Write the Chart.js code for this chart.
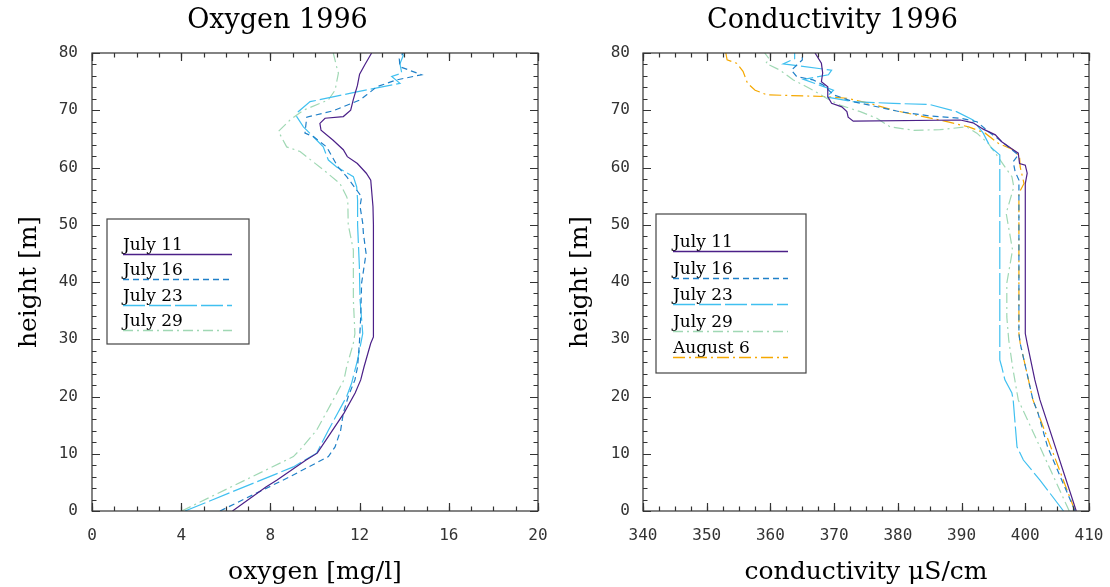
<!DOCTYPE html>
<html>
<head>
<meta charset="utf-8">
<script src="https://cdn.jsdelivr.net/npm/chart.js@4/dist/chart.umd.min.js"></script>
<style>
  body { margin: 0; background: #fff; }
  #wrap { position: relative; width: 1110px; height: 587px; }
  .panel { position: absolute; top: 0; width: 555px; height: 587px; }
</style>
</head>
<body>
<div id="wrap">
  <div class="panel" style="left:0"><canvas id="oxygen" width="555" height="587"></canvas></div>
  <div class="panel" style="left:555px"><canvas id="conductivity" width="555" height="587"></canvas></div>
</div>
<script>
// profile dates
let dateLabels = ["July 11", "July 16", "July 23", "July 29", "August 6"];

// oxygen [mg/l] vs height [m], pairs of [value, height]
let oxyJuly11 = [[6.3,0],[7.8,4.2],[8.3,5.4],[9.6,8.9],[10.1,10.1],[10.7,13.6],[11.3,17.1],[11.8,20.6],[12.05,22.9],[12.2,25.2],[12.5,29.3],[12.62,30.4],[12.62,40],[12.62,50],[12.6,53.2],[12.5,57.8],[12.3,59],[11.9,60.7],[11.45,61.9],[11.27,63.1],[10.8,64.8],[10.27,66.5],[10.22,67.7],[10.45,68.6],[11.27,68.9],[11.6,70],[11.72,71.9],[11.9,74.3],[12.0,76.3],[12.24,78],[12.54,80]];
let oxyJuly16 = [[5.74,0],[8.88,6.0],[10.6,9.5],[10.9,11.2],[11.15,14.1],[11.27,17.1],[11.49,20],[11.79,22.9],[11.91,25.2],[11.99,29.3],[12.05,33.9],[12.09,39.8],[12.29,45],[12.17,48.5],[12.14,50.3],[12.02,53.2],[12.09,54.9],[11.42,58.4],[11.03,60.1],[10.52,63.6],[9.93,65.4],[9.55,66],[9.63,68.8],[10.82,69.9],[12.02,71.8],[12.32,72.7],[12.77,74.1],[13.66,75.3],[14.78,76.2],[13.81,77.6],[13.78,79],[13.96,80]];
let oxyJuly23 = [[4.17,0],[9.03,7.7],[10.07,10.1],[10.6,14.1],[11.42,20],[11.64,22.3],[11.91,26.4],[12.14,31],[12.02,36.9],[11.99,42.7],[11.91,50],[11.91,54.3],[11.87,56.6],[11.72,58.4],[10.97,60.1],[10.6,61.3],[10.37,63.6],[10.07,64.8],[9.48,67.1],[9.18,68.9],[9.25,69.75],[9.78,71.5],[11.87,73.2],[13.81,74.7],[13.44,75.9],[13.89,76.5],[13.81,78.1],[13.96,79.6],[13.89,80]];
let oxyJuly29 = [[4.02,0],[9.03,9.5],[9.33,10.7],[10.07,14.1],[10.9,20],[11.3,22.9],[11.42,25.2],[11.72,29.3],[11.79,31],[11.72,36.9],[11.72,45.6],[11.49,50],[11.47,54.3],[11.42,54.9],[11.12,57.2],[10.37,59.6],[9.33,62.8],[8.73,63.6],[8.36,66.3],[8.88,68.3],[9.48,70],[10.6,71.8],[10.9,73.5],[11.05,76.5],[10.97,77.6],[10.82,80]];

// conductivity [uS/cm] vs height [m]
let condJuly11 = [[408.0,0],[402.3,19.4],[401.5,22.9],[400.3,29.3],[400.0,31],[400.0,57.2],[400.3,59],[400.0,60.4],[399.1,60.7],[398.9,62.5],[398.1,63.1],[396.3,64.5],[395.3,65.7],[393.4,66.7],[391.8,67.8],[389.8,68.3],[373.0,68.1],[372.2,68.8],[372.0,69.75],[371.2,70.6],[369.6,71.2],[369.0,72.4],[369.0,74.1],[368.0,75],[368.2,76.5],[368.0,78.2],[367.0,80]];
let condJuly16 = [[407.8,0],[403.5,11.2],[402.0,17.1],[401.2,19.4],[400.5,22.9],[399.2,29.3],[399.0,31],[399.0,57.8],[398.4,59.3],[398.1,61],[398.9,62.2],[397.9,63.1],[396.0,64.8],[394.5,66],[392.4,68],[389.8,68.6],[385.0,69],[380.3,69.75],[373.0,71.5],[369.9,72.7],[368.3,74.4],[366.7,75.3],[364.1,75.9],[363.3,77],[365.0,78.8],[365.0,80]];
let condJuly23 = [[406.0,0],[402.3,5.4],[399.7,8.9],[398.7,11.2],[398.1,19.4],[397.9,20.6],[396.8,22.9],[396.3,25.2],[396.0,26.4],[396.0,62.2],[394.5,63.6],[393.4,66],[391.8,68.3],[389.2,69.75],[385.0,71],[379.3,71.2],[373.0,71.5],[368.8,72.3],[369.9,73.5],[365.2,75.4],[369.1,76.2],[369.6,77],[362.0,78.1],[363.8,79],[363.8,80]];
let condJuly29 = [[406.9,0],[402.3,11.2],[398.9,19.4],[398.0,25.2],[397.4,29.9],[397.1,33.9],[397.1,39.8],[398.0,45.6],[397.0,52],[397.6,54.3],[398.2,56.6],[397.9,58.4],[396.8,60.1],[395.5,62.2],[394.2,64.2],[392.4,66],[390.8,67.1],[386.6,66.6],[382.5,66.5],[378.8,67.1],[376.7,68.6],[374.1,69.75],[370.9,70.9],[368.8,72.1],[366.7,73.5],[363.6,75.3],[361.5,77],[359.3,78.2],[359.8,79],[359.1,80]];
let condAug6 = [[407.8,0],[404.0,11.2],[402.0,17.1],[401.2,19.4],[400.5,22.9],[399.2,29.3],[399.0,31],[399.0,55.5],[399.8,57.2],[399.2,60.1],[399.1,61.9],[398.1,63.1],[395.8,64.2],[393.7,66],[391.1,67.1],[387.7,68],[384.0,68.9],[379.3,70],[375.6,71.2],[372.0,72.1],[368.3,72.4],[359.4,72.7],[357.6,73.5],[356.4,74.7],[355.7,76.8],[354.7,78.2],[353.2,78.8],[353.0,80]];

// line styles per date
let lineColors = ["#4b2088", "#2080c8", "#40c0f0", "#a0d8b4", "#f5a800"];
let lineDashes = [[], [6, 4], [22, 4], [10, 4, 2, 4], [12, 4, 2, 4]];

let tickFont = { family: "'DejaVu Sans Mono'", size: 16 };
let serif = "'DejaVu Serif'";

// box around plot + inward ticks on all four sides
const frameTicks = {
  id: "frameTicks",
  afterDatasetsDraw(chart, args, o) {
    const { ctx, chartArea: a, scales: { x, y } } = chart;
    ctx.save();
    ctx.strokeStyle = "#333";
    ctx.lineWidth = 1.2;
    ctx.strokeRect(a.left, a.top, a.right - a.left, a.bottom - a.top);
    const mark = (scale, step, len) => {
      for (let v = scale.min; v <= scale.max + 1e-6; v += step) {
        const p = Math.round(scale.getPixelForValue(v)) + 0.5;
        ctx.beginPath();
        if (scale.isHorizontal()) {
          ctx.moveTo(p, a.bottom); ctx.lineTo(p, a.bottom - len);
          ctx.moveTo(p, a.top); ctx.lineTo(p, a.top + len);
        } else {
          ctx.moveTo(a.left, p); ctx.lineTo(a.left + len, p);
          ctx.moveTo(a.right, p); ctx.lineTo(a.right - len, p);
        }
        ctx.stroke();
      }
    };
    mark(x, o.xMinor, 4.5);
    mark(x, o.xMajor, 8);
    mark(y, 2, 4.5);
    mark(y, 10, 8);
    ctx.restore();
  }
};

// legend box: text above each line sample
const boxLegend = {
  id: "boxLegend",
  afterDraw(chart, args, o) {
    const { ctx, chartArea: a } = chart;
    const left = a.left + o.dx, top = a.top + o.dy;
    ctx.save();
    ctx.strokeStyle = "#444";
    ctx.lineWidth = 1.2;
    ctx.strokeRect(left, top, o.width, o.height);
    ctx.font = "17px " + serif;
    chart.data.datasets.forEach((ds, i) => {
      const ly = Math.round(top + o.first + i * o.step) + 0.5;
      ctx.fillStyle = "#000";
      ctx.fillText(ds.label, left + o.pad, ly - 5);
      ctx.strokeStyle = ds.borderColor;
      ctx.lineWidth = 1.3;
      ctx.setLineDash(ds.borderDash);
      ctx.beginPath();
      ctx.moveTo(left + o.pad, ly);
      ctx.lineTo(left + o.pad + o.len, ly);
      ctx.stroke();
      ctx.setLineDash([]);
    });
    ctx.restore();
  }
};

function makeDatasets(series) {
  return series.map((pts, i) => ({
    label: dateLabels[i],
    data: pts.map(([v, h]) => ({ x: v, y: h })),
    borderColor: lineColors[i],
    borderDash: lineDashes[i],
    borderWidth: 1.2,
    showLine: true,
    pointRadius: 0,
    tension: 0
  }));
}

function makeChart(id, cfg) {
  return new Chart(document.getElementById(id), {
    type: "scatter",
    data: { datasets: makeDatasets(cfg.series) },
    plugins: [frameTicks, boxLegend],
    options: {
      responsive: false,
      animation: false,
      layout: { padding: 0 },
      plugins: {
        legend: { display: false },
        tooltip: { enabled: false },
        title: {
          display: true,
          text: cfg.title,
          color: "#000",
          font: { family: serif, size: 27, weight: "normal" },
          padding: { top: 5, bottom: 15.6 }
        },
        frameTicks: { xMajor: cfg.xStep, xMinor: cfg.xStep / 4 },
        boxLegend: cfg.legend
      },
      scales: {
        x: {
          type: "linear",
          min: cfg.xMin,
          max: cfg.xMax,
          grid: { display: false, drawTicks: true, tickLength: 15 },
          border: { display: false },
          ticks: { stepSize: cfg.xStep, color: "#333", font: tickFont, padding: 0, maxRotation: 0 },
          title: {
            display: true,
            text: cfg.xTitle,
            color: "#000",
            font: { family: serif, size: 25 },
            padding: { top: 0, bottom: 0 }
          },
          afterFit: (s) => { s.height = 76; }
        },
        y: {
          type: "linear",
          min: 0,
          max: 80,
          grid: { display: false, drawTicks: false },
          border: { display: false },
          ticks: { stepSize: 10, color: "#333", font: tickFont, padding: cfg.yPad },
          title: {
            display: true,
            text: "height [m]",
            color: "#000",
            font: { family: serif, size: 25 },
            padding: { top: cfg.yTitlePad, bottom: 0 }
          },
          afterFit: (s) => { s.width = cfg.yWidth; }
        },
        gap: {
          type: "linear",
          position: "right",
          grid: { display: false, drawTicks: false },
          border: { display: false },
          ticks: { display: false },
          afterFit: (s) => { s.width = cfg.rightGap; }
        }
      }
    }
  });
}

makeChart("oxygen", {
  title: "Oxygen 1996",
  series: [oxyJuly11, oxyJuly16, oxyJuly23, oxyJuly29],
  xMin: 0, xMax: 20, xStep: 4,
  xTitle: "oxygen [mg/l]",
  yWidth: 92, yPad: 14, yTitlePad: 14, rightGap: 17,
  legend: { dx: 15, dy: 166, width: 142, height: 125, pad: 16, first: 35, step: 25.3, len: 109 }
});

makeChart("conductivity", {
  title: "Conductivity 1996",
  series: [condJuly11, condJuly16, condJuly23, condJuly29, condAug6],
  xMin: 340, xMax: 410, xStep: 10,
  xTitle: "conductivity \u03bcS/cm",
  yWidth: 88, yPad: 13, yTitlePad: 10, rightGap: 21,
  legend: { dx: 13, dy: 161, width: 150, height: 159, pad: 17, first: 37, step: 26.5, len: 115 }
});
</script>
</body>
</html>
